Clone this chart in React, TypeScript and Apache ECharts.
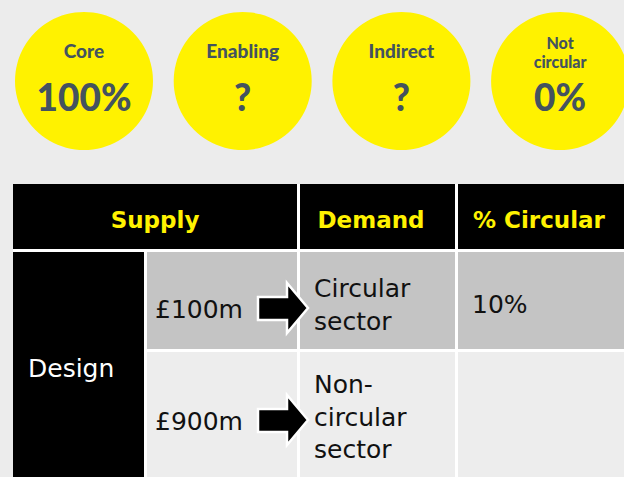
import React, { useEffect, useRef } from "react";
import * as echarts from "echarts";

const circleNames: string[][] = [["Core"], ["Enabling"], ["Indirect"], ["Not", "circular"]];
const circleValues: string[] = ["100%", "?", "?", "0%"];

const headers: string[] = ["Supply", "Demand", "% Circular"];
const rowLabel: string = "Design";
const supplyValues: string[] = ["£100m", "£900m"];
const demandLabels: string[][] = [["Circular", "sector"], ["Non-", "circular", "sector"]];
const circularPct: string[] = ["10%", ""];

const YELLOW = "#fff200";
const SLATE = "#44535f";

export default function App() {
  const ref = useRef<HTMLDivElement>(null);
  useEffect(() => {
    if (!ref.current) return;
    const chart = echarts.init(ref.current, undefined, { renderer: "svg" });
    const g: any[] = [];

    // circles
    const cx0 = 84, step = 158.7, cy = 81, r = 69;
    circleNames.forEach((names, i) => {
      const cx = cx0 + i * step;
      g.push({ type: "circle", shape: { cx, cy, r }, style: { fill: YELLOW } });
      if (names.length === 1) {
        g.push({ type: "text", x: cx, y: 50, style: { text: names[0], fill: SLATE, font: "900 19px Lato", textAlign: "center", textVerticalAlign: "middle" } });
      } else {
        names.forEach((n, j) => {
          g.push({ type: "text", x: cx, y: 42 + j * 19.6, style: { text: n, fill: SLATE, font: "900 16px Lato", textAlign: "center", textVerticalAlign: "middle" } });
        });
      }
      g.push({ type: "text", x: cx, y: 96, style: { text: circleValues[i], fill: SLATE, font: "900 37px Lato", textAlign: "center", textVerticalAlign: "middle" } });
    });

    // table
    const top = 184, headBottom = 249;
    const rowsY = [[252, 349], [352, 477]];
    g.push({ type: "rect", shape: { x: 13, y: top, width: 611, height: 477 - top }, style: { fill: "#ffffff" } });
    g.push({ type: "rect", shape: { x: 13, y: top, width: 297 - 13, height: headBottom - top }, style: { fill: "#000" } });
    g.push({ type: "rect", shape: { x: 300, y: top, width: 455 - 300, height: headBottom - top }, style: { fill: "#000" } });
    g.push({ type: "rect", shape: { x: 458, y: top, width: 624 - 458, height: headBottom - top }, style: { fill: "#000" } });
    const hy = 220;
    const hfont = "bold 23px 'DejaVu Sans'";
    g.push({ type: "text", x: 155, y: hy, style: { text: headers[0], fill: YELLOW, font: hfont, textAlign: "center", textVerticalAlign: "middle" } });
    g.push({ type: "text", x: 371, y: hy, style: { text: headers[1], fill: YELLOW, font: hfont, textAlign: "center", textVerticalAlign: "middle" } });
    g.push({ type: "text", x: 473, y: hy, style: { text: headers[2], fill: YELLOW, font: hfont, textAlign: "left", textVerticalAlign: "middle" } });

    // Design cell
    g.push({ type: "rect", shape: { x: 13, y: 252, width: 144 - 13, height: 477 - 252 }, style: { fill: "#000" } });
    g.push({ type: "text", x: 28, y: 368, style: { text: rowLabel, fill: "#fff", font: "25px 'DejaVu Sans'", textAlign: "left", textVerticalAlign: "middle" } });

    const bfont = "25px 'DejaVu Sans'";
    rowsY.forEach(([y0, y1], ri) => {
      const fill = ri === 0 ? "#c4c4c4" : "#ededed";
      g.push({ type: "rect", shape: { x: 147, y: y0, width: 297 - 147, height: y1 - y0 }, style: { fill } });
      g.push({ type: "rect", shape: { x: 300, y: y0, width: 455 - 300, height: y1 - y0 }, style: { fill } });
      g.push({ type: "rect", shape: { x: 458, y: y0, width: 624 - 458, height: y1 - y0 }, style: { fill } });
      const mid = ri === 0 ? 308 : 420;
      g.push({ type: "text", x: 155, y: mid + 1, style: { text: supplyValues[ri], fill: "#111", font: bfont, textAlign: "left", textVerticalAlign: "middle" } });
      const lines = demandLabels[ri];
      const lh = 32.5;
      const startY = mid - ((lines.length - 1) * lh) / 2 - 3;
      g.push({
        type: "text", x: 314, y: startY - lh / 2,
        style: { text: lines.join("\n"), fill: "#111", font: bfont, lineHeight: lh, textAlign: "left", textVerticalAlign: "top" },
      });
      if (circularPct[ri]) {
        g.push({ type: "text", x: 472, y: mid - 4, style: { text: circularPct[ri], fill: "#111", font: bfont, textAlign: "left", textVerticalAlign: "middle" } });
      }
      const pts = [[258, mid - 11], [287, mid - 11], [287, mid - 25], [308, mid], [287, mid + 25], [287, mid + 12], [258, mid + 12]];
      g.push({ type: "polygon", shape: { points: pts }, style: { fill: "#000", stroke: "#fff", lineWidth: 2.5 }, z: 10 });
    });

    chart.setOption({
      animation: false,
      backgroundColor: "#ececec",
      graphic: g,
    });
    return () => chart.dispose();
  }, []);
  return <div ref={ref} style={{ position: "absolute", left: 0, top: 0, width: 624, height: 477 }} />;
}
